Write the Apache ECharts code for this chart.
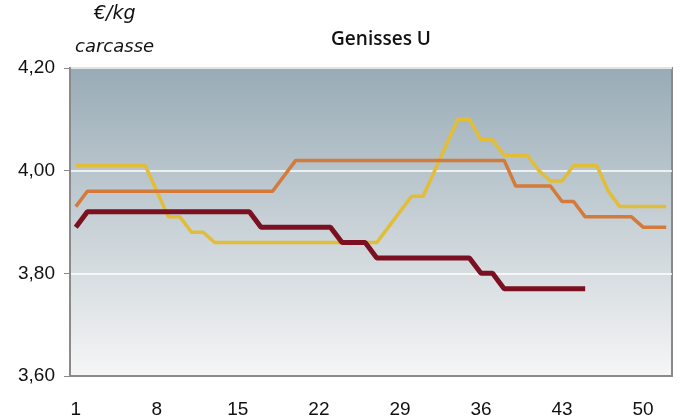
<!DOCTYPE html>
<html>
<head>
<meta charset="utf-8">
<script src="https://cdn.jsdelivr.net/npm/echarts@6/dist/echarts.min.js"></script>
<style>
	html, body { margin: 0; padding: 0; background: #fff; }
	#chart { width: 682px; height: 419px; }
</style>
</head>
<body>
<div id="chart"></div>
<script>
var weeks = [];
for (var w = 1; w <= 52; w++) weeks.push(String(w));

var yellowLine = [4.01, 4.01, 4.01, 4.01, 4.01, 4.01, 4.01, 3.96, 3.91, 3.91,
	3.88, 3.88, 3.86, 3.86, 3.86, 3.86, 3.86, 3.86, 3.86, 3.86,
	3.86, 3.86, 3.86, 3.86, 3.86, 3.86, 3.86, 3.89, 3.92, 3.95,
	3.95, 4.00, 4.05, 4.10, 4.10, 4.06, 4.06, 4.03, 4.03, 4.03,
	4.00, 3.98, 3.98, 4.01, 4.01, 4.01, 3.96, 3.93, 3.93, 3.93,
	3.93, 3.93];
var orangeLine = [3.93, 3.96, 3.96, 3.96, 3.96, 3.96, 3.96, 3.96, 3.96, 3.96,
	3.96, 3.96, 3.96, 3.96, 3.96, 3.96, 3.96, 3.96, 3.99, 4.02,
	4.02, 4.02, 4.02, 4.02, 4.02, 4.02, 4.02, 4.02, 4.02, 4.02,
	4.02, 4.02, 4.02, 4.02, 4.02, 4.02, 4.02, 4.02, 3.97, 3.97,
	3.97, 3.97, 3.94, 3.94, 3.91, 3.91, 3.91, 3.91, 3.91, 3.89,
	3.89, 3.89];
var darkRedLine = [3.89, 3.92, 3.92, 3.92, 3.92, 3.92, 3.92, 3.92, 3.92, 3.92,
	3.92, 3.92, 3.92, 3.92, 3.92, 3.92, 3.89, 3.89, 3.89, 3.89,
	3.89, 3.89, 3.89, 3.86, 3.86, 3.86, 3.83, 3.83, 3.83, 3.83,
	3.83, 3.83, 3.83, 3.83, 3.83, 3.80, 3.80, 3.77, 3.77, 3.77,
	3.77, 3.77, 3.77, 3.77, 3.77];

var myChart = echarts.init(document.getElementById('chart'));
var option = {
	animation: false,
	title: {
		text: 'Genisses U',
		left: 376,
		top: 25,
		textAlign: 'center',
		textStyle: {
			fontFamily: 'Open Sans',
			fontSize: 19,
			fontWeight: 600,
			color: '#111'
		}
	},
	graphic: [{
		type: 'text',
		left: 94,
		top: 5,
		style: {
			text: '€/kg',
			font: 'italic 19px "DejaVu Sans"',
			fill: '#111'
		}
	}, {
		type: 'text',
		left: 75,
		top: 38,
		style: {
			text: 'carcasse',
			font: 'italic 18px "DejaVu Sans"',
			fill: '#111'
		}
	}],
	grid: {
		left: 70,
		right: 10,
		top: 68,
		bottom: 41,
		show: true,
		borderColor: '#8a8a8a',
		borderWidth: 2,
		backgroundColor: new echarts.graphic.LinearGradient(0, 0, 0, 1, [{
			offset: 0,
			color: '#98abb6'
		}, {
			offset: 1,
			color: '#f6f6f6'
		}])
	},
	xAxis: {
		type: 'category',
		boundaryGap: true,
		data: weeks,
		axisLine: {
			lineStyle: { color: '#8a8a8a', width: 2 }
		},
		axisTick: {
			interval: 0,
			length: 5,
			lineStyle: { color: '#8a8a8a' }
		},
		axisLabel: {
			interval: 6,
			margin: 24,
			fontFamily: 'Liberation Sans',
			fontSize: 19,
			color: '#111'
		}
	},
	yAxis: {
		type: 'value',
		min: 3.6,
		max: 4.2,
		interval: 0.2,
		axisLine: {
			show: true,
			lineStyle: { color: '#8a8a8a', width: 2 }
		},
		axisTick: {
			show: true,
			length: 6,
			lineStyle: { color: '#8a8a8a' }
		},
		axisLabel: {
			margin: 15,
			fontFamily: 'Liberation Sans',
			fontSize: 19,
			color: '#111',
			formatter: function(v) {
				return v.toFixed(2).replace('.', ',');
			}
		},
		splitLine: {
			show: true,
			lineStyle: { color: '#ffffff', width: 1.5 }
		}
	},
	series: [{
		name: 'yellow',
		type: 'line',
		symbol: 'none',
		data: yellowLine,
		lineStyle: { color: '#e2bd38', width: 3.5 },
		z: 2
	}, {
		name: 'orange',
		type: 'line',
		symbol: 'none',
		data: orangeLine,
		lineStyle: { color: '#d47a3a', width: 3.5 },
		z: 3
	}, {
		name: 'darkred',
		type: 'line',
		symbol: 'none',
		data: darkRedLine,
		lineStyle: { color: '#7a1022', width: 5 },
		z: 4
	}]
};
myChart.setOption(option);
</script>
</body>
</html>
